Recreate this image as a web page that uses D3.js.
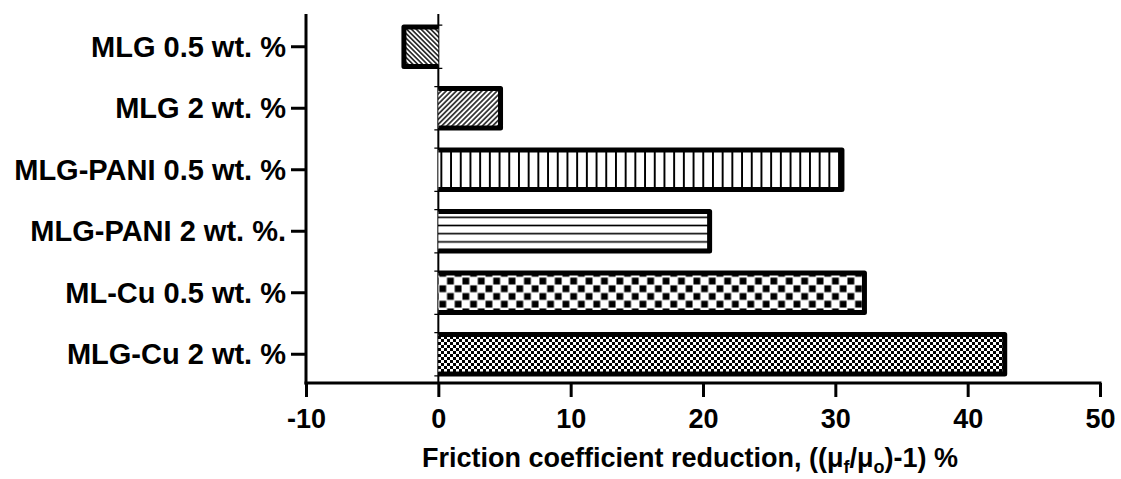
<!DOCTYPE html>
<html>
<head>
<meta charset="utf-8">
<script src="https://cdn.jsdelivr.net/npm/d3@7"></script>
<style>
  html, body { margin: 0; padding: 0; background: #fff; }
  svg { display: block; }
  text { font-family: "Liberation Sans", Arial, sans-serif; font-weight: bold; fill: #000; }
</style>
</head>
<body>
<script>
// ---- data ----
const categories = ["MLG 0.5 wt. %", "MLG 2 wt. %", "MLG-PANI 0.5 wt. %", "MLG-PANI 2 wt. %.", "ML-Cu 0.5 wt. %", "MLG-Cu 2 wt. %"];
const values = [-2.6, 4.7, 30.5, 20.5, 32.2, 42.8];
const xTicks = [-10, 0, 10, 20, 30, 40, 50];
const xDomain = [-10, 50];
const patternIds = ["diagBack", "diagFwd", "vert", "horiz", "checker", "fineChecker"];

const W = 1121, H = 479;
const svg = d3.select("body").append("svg").attr("width", W).attr("height", H);

// ---- patterns ----
const defs = svg.append("defs");
function linePattern(id, size, angle, sw) {
  const p = defs.append("pattern").attr("id", id).attr("patternUnits", "userSpaceOnUse")
    .attr("width", size).attr("height", size)
    .attr("patternTransform", `rotate(${angle})`);
  p.append("rect").attr("width", size).attr("height", size).attr("fill", "#fff");
  p.append("line").attr("x1", size / 2).attr("x2", size / 2).attr("y1", -1).attr("y2", size + 1)
    .attr("stroke", "#000").attr("stroke-width", sw);
}
linePattern("diagBack", 3.4, -45, 1.4);
linePattern("diagFwd", 3.6, 45, 1.4);
linePattern("vert", 9.7, 0, 2);
linePattern("horiz", 8.2, 90, 1.6);
function checkerPattern(id, cell, sq) {
  const p = defs.append("pattern").attr("id", id).attr("patternUnits", "userSpaceOnUse")
    .attr("width", cell * 2).attr("height", cell * 2);
  p.append("rect").attr("width", cell * 2).attr("height", cell * 2).attr("fill", "#fff");
  const off = (cell - sq) / 2;
  p.append("rect").attr("x", off).attr("y", off).attr("width", sq).attr("height", sq).attr("fill", "#000");
  p.append("rect").attr("x", cell + off).attr("y", cell + off).attr("width", sq).attr("height", sq).attr("fill", "#000");
}
checkerPattern("checker", 7.7, 6.8);
checkerPattern("fineChecker", 3, 3);

// ---- scales ----
const x = d3.scaleLinear().domain(xDomain).range([306, 1100]);
const y = d3.scaleBand().domain(categories).range([16, 385]).paddingInner(0.36).paddingOuter(0.18);

// ---- zero line ----
svg.append("line").attr("x1", x(0)).attr("x2", x(0)).attr("y1", 14).attr("y2", 383)
  .attr("stroke", "#000").attr("stroke-width", 2);

// ---- bars ----
const data = categories.map((c, i) => ({ c, v: values[i], p: patternIds[i] }));
const g = svg.append("g");
g.selectAll("rect.bar").data(data).join("rect").attr("class", "bar")
  .attr("x", d => Math.min(x(0), x(d.v)))
  .attr("width", d => Math.abs(x(d.v) - x(0)))
  .attr("y", d => y(d.c))
  .attr("height", y.bandwidth())
  .attr("fill", d => `url(#${d.p})`);
g.selectAll("path.border").data(data).join("path").attr("class", "border")
  .attr("d", d => {
    const x0 = x(0), x1 = x(d.v), y0 = y(d.c), y1 = y(d.c) + y.bandwidth();
    return `M${x0},${y0}L${x1},${y0}L${x1},${y1}L${x0},${y1}`;
  })
  .attr("fill", "none").attr("stroke", "#000").attr("stroke-width", 5)
  .attr("stroke-linejoin", "round");
// small baseline stubs at bar edges
g.selectAll("path.stub").data(data).join("path").attr("class", "stub")
  .attr("d", d => {
    const x0 = x(0), s = d.v >= 0 ? -4 : 4, y0 = y(d.c), y1 = y(d.c) + y.bandwidth();
    return `M${x0 + s},${y0 - 2}L${x0},${y0 - 2}M${x0 + s},${y1 + 2}L${x0},${y1 + 2}`;
  })
  .attr("fill", "none").attr("stroke", "#000").attr("stroke-width", 1.2);

// ---- y axis ----
const yAxis = svg.append("g").attr("transform", "translate(306,0)")
  .call(d3.axisLeft(y).tickSize(15).tickPadding(5));
yAxis.select(".domain").remove();
yAxis.selectAll(".tick line").attr("stroke", "#000").attr("stroke-width", 3);
yAxis.selectAll(".tick text").style("font-size", "29px").attr("dy", "0.35em");
svg.append("line").attr("x1", 306).attr("x2", 306).attr("y1", 14).attr("y2", 384.5)
  .attr("stroke", "#000").attr("stroke-width", 3);

// ---- x axis ----
const xAxis = svg.append("g").attr("transform", "translate(0,383)")
  .call(d3.axisBottom(x).tickValues(xTicks).tickFormat(d => String(d)).tickSize(14).tickPadding(12));
xAxis.select(".domain").remove();
xAxis.selectAll(".tick line").attr("stroke", "#000").attr("stroke-width", 3);
xAxis.selectAll(".tick text").style("font-size", "27px").attr("dy", "0.71em");
svg.append("line").attr("x1", 304.5).attr("x2", 1101.5).attr("y1", 383).attr("y2", 383)
  .attr("stroke", "#000").attr("stroke-width", 3);

// ---- x title ----
const t = svg.append("text").attr("x", 690).attr("y", 467).attr("text-anchor", "middle")
  .style("font-size", "27px");
t.append("tspan").text("Friction coefficient reduction, ((\u03bc");
t.append("tspan").attr("dy", 6).style("font-size", "18px").text("f");
t.append("tspan").attr("dy", -6).text("/\u03bc");
t.append("tspan").attr("dy", 6).style("font-size", "18px").text("o");
t.append("tspan").attr("dy", -6).text(")-1) %");
</script>
</body>
</html>
